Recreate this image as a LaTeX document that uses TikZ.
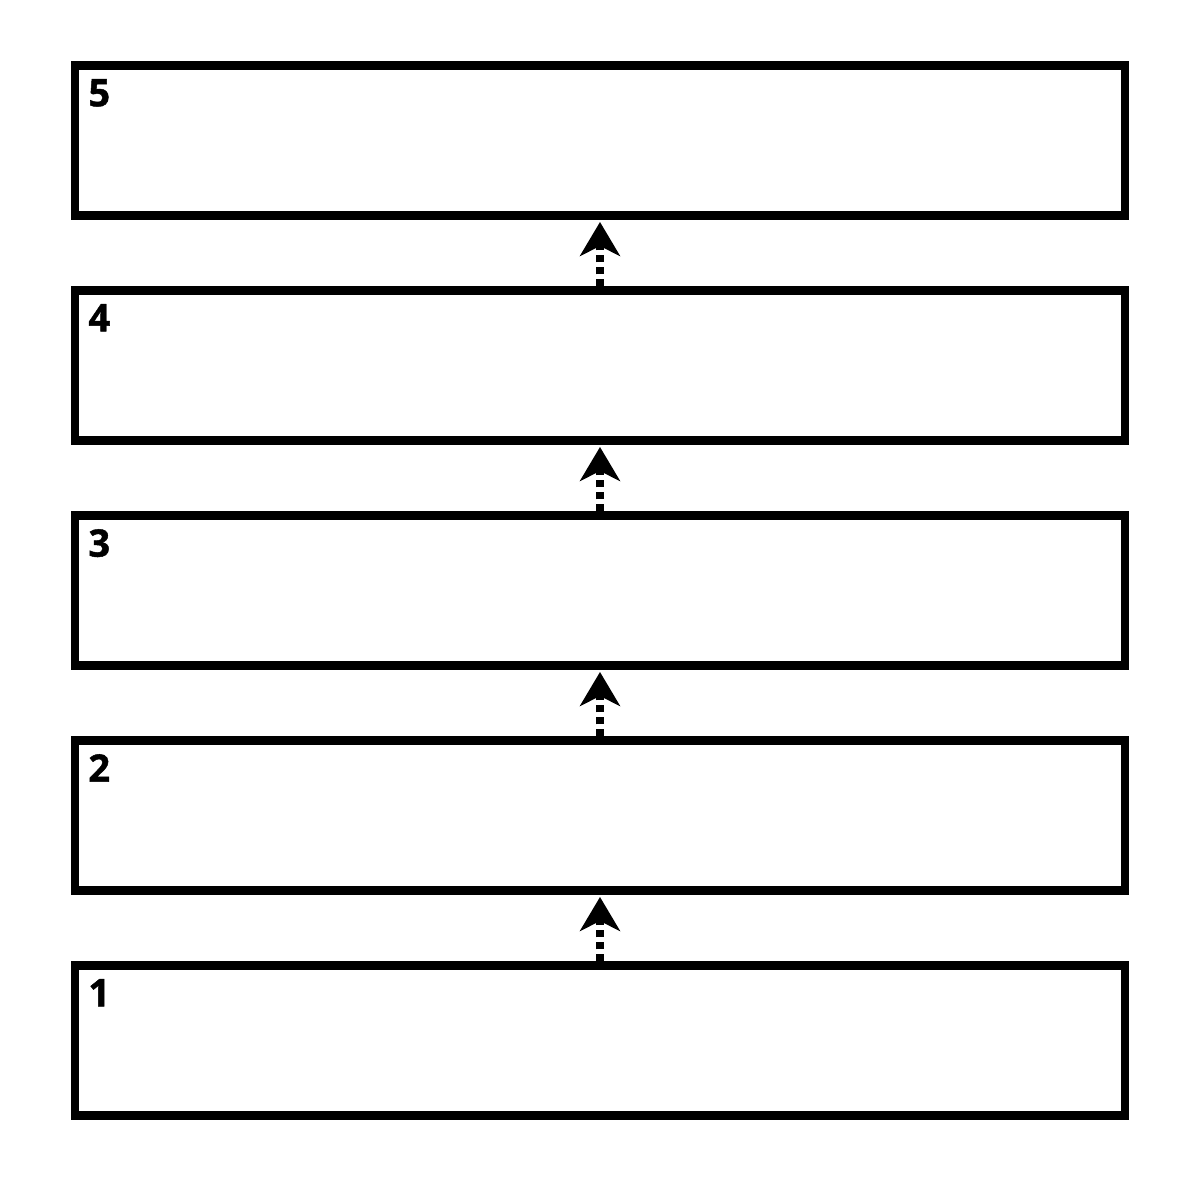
\documentclass[tikz,border=0pt]{standalone}
\usepackage{fontspec}
\setmainfont{Open Sans}[BoldFeatures={FakeBold=1.2}]
\usetikzlibrary{positioning,arrows.meta}

\begin{document}
\begin{tikzpicture}[
    level/.style={draw,line width=.085cm,minimum width=10.5cm,minimum height=1.5cm,inner sep=0pt},
    levelnum/.style={anchor=north west,inner sep=0pt,font=\fontsize{10.8}{13}\selectfont\bfseries},
    dasharrow/.style={line width=.085cm,dash pattern=on .07cm off .05cm,shorten >=.02cm,
        -{Stealth[length=.34cm,width=.4cm,inset=.1cm]}}
    ]
    \useasboundingbox (0,0) rectangle (12,12);
    \node[level] (box5) at (6,10.5925) {};
    \node[level,below=.665cm of box5] (box4) {};
    \node[level,below=.665cm of box4] (box3) {};
    \node[level,below=.665cm of box3] (box2) {};
    \node[level,below=.665cm of box2] (box1) {};
    % numbers in the corners
    \node[levelnum] (num5) at ([xshift=.17cm,yshift=-.17cm]box5.north west) {5};
    \node[levelnum] (num4) at ([xshift=.17cm,yshift=-.17cm]box4.north west) {4};
    \node[levelnum] (num3) at ([xshift=.17cm,yshift=-.17cm]box3.north west) {3};
    \node[levelnum] (num2) at ([xshift=.17cm,yshift=-.17cm]box2.north west) {2};
    \node[levelnum] (num1) at ([xshift=.17cm,yshift=-.17cm]box1.north west) {1};
    % dashed arrows
    \draw[dasharrow] (box1.north) -- (box2.south);
    \draw[dasharrow] (box2.north) -- (box3.south);
    \draw[dasharrow] (box3.north) -- (box4.south);
    \draw[dasharrow] (box4.north) -- (box5.south);
\end{tikzpicture}
\end{document}
